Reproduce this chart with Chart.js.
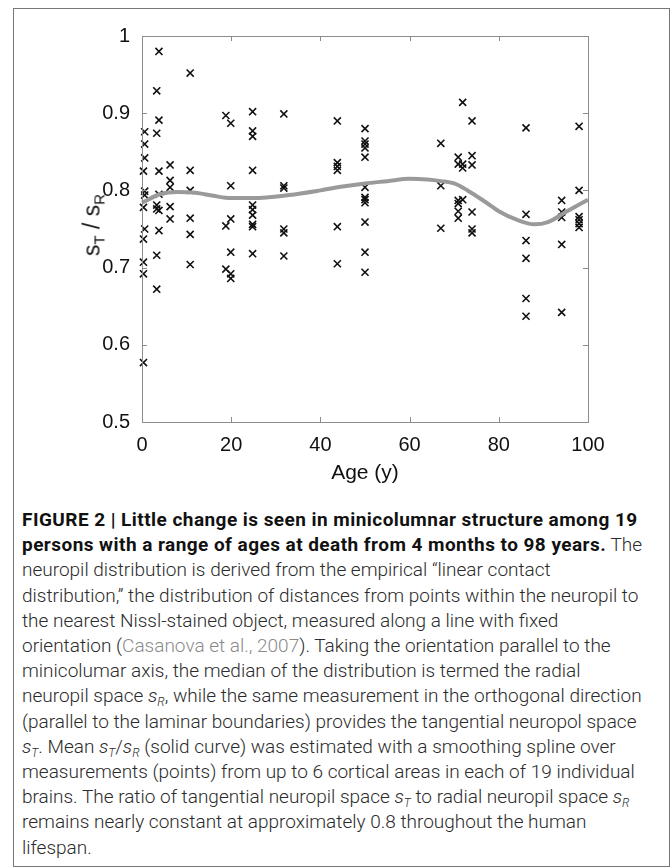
<!DOCTYPE html>
<html>
<head>
<meta charset="utf-8">
<script src="https://cdn.jsdelivr.net/npm/chart.js@4.4.0/dist/chart.umd.min.js"></script>
<style>
  body { margin: 0; background: #fff; }
  #page { position: relative; width: 671px; height: 868px; overflow: hidden; font-family: 'Liberation Sans', Arial, sans-serif; }
  #frame { position: absolute; left: 13px; top: 8px; width: 657px; height: 859px; border: 1px solid #777; box-sizing: border-box; }
  #plot { position: absolute; left: 0; top: 0; width: 671px; height: 490px; }
  #ylabel { position: absolute; left: 92px; top: 225px; transform: translate(-50%, -50%) rotate(-90deg); font-size: 23px; line-height: 23px; white-space: nowrap; color: #111; }
  #ylabel sub { font-size: 15px; line-height: 0; vertical-align: -5px; }
  #caption { position: absolute; left: 22px; top: 507px; font-size: 19px; line-height: 25.2px; color: #2b2b2b; white-space: nowrap; font-family: Roboto, 'Liberation Sans', sans-serif; font-weight: 300; }
  #caption b { font-weight: 700; color: #111; letter-spacing: 0.45px; }
  #caption .cite { color: #8a8a8a; }
  #caption sub { font-size: 12px; line-height: 0; vertical-align: -4px; }
</style>
</head>
<body>
<div id="page">
  <div id="frame"></div>
  <div id="plot"><canvas id="chart" width="671" height="490"></canvas></div>
  <div id="ylabel">s<sub>T</sub> / s<sub>R</sub></div>
  <div id="caption">
    <b>FIGURE 2 | Little change is seen in minicolumnar structure among 19</b><br>
    <b>persons with a range of ages at death from 4 months to 98 years.</b> The<br>
    neuropil distribution is derived from the empirical “linear contact<br>
    distribution,” the distribution of distances from points within the neuropil to<br>
    the nearest Nissl-stained object, measured along a line with fixed<br>
    orientation (<span class="cite">Casanova et al., 2007</span>). Taking the orientation parallel to the<br>
    minicolumar axis, the median of the distribution is termed the radial<br>
    neuropil space <i>s<sub>R</sub></i>, while the same measurement in the orthogonal direction<br>
    (parallel to the laminar boundaries) provides the tangential neuropol space<br>
    <i>s<sub>T</sub></i>. Mean <i>s<sub>T</sub></i>/<i>s<sub>R</sub></i> (solid curve) was estimated with a smoothing spline over<br>
    measurements (points) from up to 6 cortical areas in each of 19 individual<br>
    brains. The ratio of tangential neuropil space <i>s<sub>T</sub></i> to radial neuropil space <i>s<sub>R</sub></i><br>
    remains nearly constant at approximately 0.8 throughout the human<br>
    lifespan.
  </div>
</div>
<script>
// ages (years) of the measured brains, one column of points each
const ages = [0.33, 0.6, 3.3, 3.8, 6.3, 10.8, 18.8, 19.9, 24.8, 31.8, 43.8, 50, 67, 70.9, 71.9, 74, 86.1, 94.1, 98];

// sT / sR measurements for each age column
const ratiosByAge = [
  [0.825, 0.778, 0.737, 0.707, 0.692, 0.577],
  [0.876, 0.860, 0.842, 0.799, 0.794, 0.750],
  [0.929, 0.874, 0.781, 0.776, 0.716, 0.672],
  [0.980, 0.891, 0.825, 0.795, 0.774, 0.748],
  [0.833, 0.813, 0.804, 0.779, 0.763],
  [0.952, 0.826, 0.800, 0.764, 0.743, 0.704],
  [0.897, 0.754, 0.698],
  [0.887, 0.806, 0.763, 0.720, 0.692, 0.686],
  [0.902, 0.877, 0.870, 0.826, 0.781, 0.775, 0.768, 0.756, 0.753, 0.718],
  [0.899, 0.806, 0.803, 0.750, 0.745, 0.715],
  [0.890, 0.836, 0.831, 0.826, 0.753, 0.705],
  [0.880, 0.864, 0.860, 0.855, 0.843, 0.804, 0.791, 0.788, 0.784, 0.759, 0.720, 0.694],
  [0.861, 0.806, 0.751],
  [0.843, 0.834, 0.787, 0.783, 0.773, 0.764],
  [0.914, 0.834, 0.829, 0.788],
  [0.890, 0.845, 0.833, 0.772, 0.750, 0.745],
  [0.881, 0.769, 0.735, 0.712, 0.660, 0.637],
  [0.787, 0.772, 0.765, 0.730, 0.642],
  [0.883, 0.800, 0.766, 0.762, 0.757, 0.752]
];

// smoothing spline (mean sT / sR)
const splineAges = [0, 4, 8, 12, 16, 20, 25, 33, 40, 45, 50, 55, 60, 64, 67, 70, 73, 77, 80, 84, 88, 91, 95, 100];
const splineRatios = [0.784, 0.795, 0.798, 0.797, 0.793, 0.790, 0.790, 0.794, 0.800, 0.805, 0.809, 0.812, 0.815, 0.814, 0.812, 0.809, 0.800, 0.785, 0.773, 0.762, 0.756, 0.759, 0.772, 0.788];

const xTicks = [0, 20, 40, 60, 80, 100];
const yTicks = [0.5, 0.6, 0.7, 0.8, 0.9, 1];

const points = ages.flatMap((a, i) => ratiosByAge[i].map(r => ({ x: a, y: r })));
const curve = splineAges.map((a, i) => ({ x: a, y: splineRatios[i] }));

const axisColor = '#8c8c8c';
const tickFont = { family: "'Liberation Sans', Arial, sans-serif", size: 20 };

// matlab style box with inward ticks on all four sides
const boxPlugin = {
  id: 'boxAxes',
  afterDraw(chart) {
    const { ctx, chartArea: a, scales } = chart;
    const len = 5;
    ctx.save();
    ctx.strokeStyle = axisColor;
    ctx.lineWidth = 1;
    ctx.strokeRect(Math.round(a.left) + 0.5, Math.round(a.top) + 0.5, Math.round(a.right - a.left), Math.round(a.bottom - a.top));
    ctx.beginPath();
    xTicks.forEach(v => {
      const x = Math.round(scales.x.getPixelForValue(v)) + 0.5;
      ctx.moveTo(x, a.bottom); ctx.lineTo(x, a.bottom - len);
      ctx.moveTo(x, a.top); ctx.lineTo(x, a.top + len);
    });
    yTicks.forEach(v => {
      const y = Math.round(scales.y.getPixelForValue(v)) + 0.5;
      ctx.moveTo(a.left, y); ctx.lineTo(a.left + len, y);
      ctx.moveTo(a.right, y); ctx.lineTo(a.right - len, y);
    });
    ctx.stroke();
    ctx.restore();
  }
};

new Chart(document.getElementById('chart'), {
  type: 'scatter',
  data: {
    datasets: [
      {
        type: 'line',
        data: curve,
        borderColor: '#9a9a9a',
        borderWidth: 4,
        pointRadius: 0,
        cubicInterpolationMode: 'monotone',
        fill: false,
        order: 0,
        clip: false
      },
      {
        data: points,
        pointStyle: 'crossRot',
        pointRadius: 5,
        borderColor: '#111',
        borderWidth: 1.6,
        order: 1,
        clip: false
      }
    ]
  },
  options: {
    responsive: false,
    animation: false,
    devicePixelRatio: 1,
    layout: { padding: { top: 36, right: 83, left: 0, bottom: 0 } },
    plugins: { legend: { display: false }, tooltip: { enabled: false } },
    scales: {
      x: {
        type: 'linear',
        min: 0,
        max: 100,
        afterBuildTicks: s => { s.ticks = xTicks.map(v => ({ value: v })); },
        afterFit: s => { s.height = 68; },
        grid: { display: false },
        border: { display: false },
        ticks: { font: tickFont, color: '#111', padding: 3, maxRotation: 0 },
        title: { display: true, text: 'Age (y)', font: { family: tickFont.family, size: 21 }, color: '#111', padding: { top: -4 } }
      },
      y: {
        min: 0.5,
        max: 1,
        afterBuildTicks: s => { s.ticks = yTicks.map(v => ({ value: v })); },
        afterFit: s => { s.width = 142; },
        grid: { display: false },
        border: { display: false },
        ticks: { font: tickFont, color: '#111', padding: 4, callback: v => String(Math.round(v * 10) / 10) }
      }
    }
  },
  plugins: [boxPlugin]
});
</script>
</body>
</html>
